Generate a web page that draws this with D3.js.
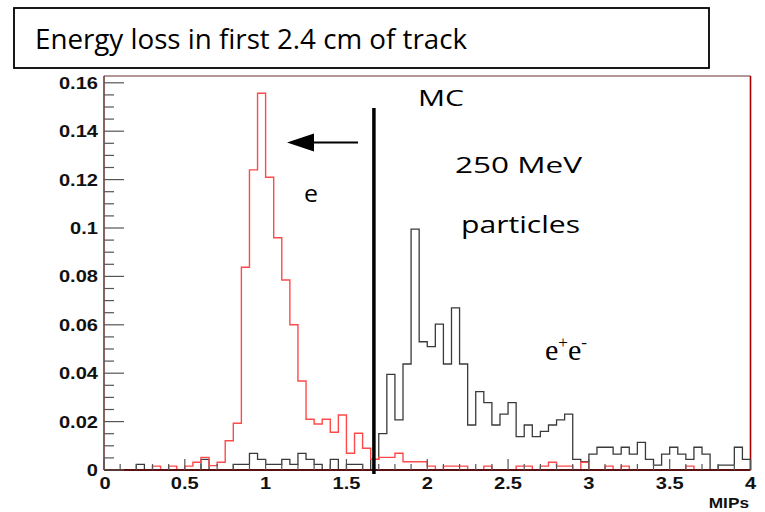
<!DOCTYPE html>
<html><head><meta charset="utf-8">
<script src="https://cdn.jsdelivr.net/npm/d3@7"></script>
<style>body{margin:0;background:#fff}svg{display:block}</style>
</head><body>
<script>
// MIPs bins: 80 bins of width 0.05 from 0 to 4
const binEdges = d3.range(0, 80).map(i => i * 0.05);
const electron = [0,0,0,0,0,0,0.0016,0,0.0016,0,
  0.0016,0.0032,0.0052,0.0018,0.0032,0.0121,0.0193,0.0838,0.124,0.1557,
  0.121,0.096,0.0785,0.060,0.0368,0.021,0.019,0.021,0.0156,0.0227,
  0.0069,0.0152,0.009,0.0044,0.0052,0.0052,0.0069,0.0034,0.0034,0.0034,
  0.0016,0,0.0016,0.0016,0.0016,0,0,0.0016,0,0,
  0,0.0016,0.0016,0,0.0016,0.0032,0.0016,0.0016,0,0.0032,
  0,0,0.0016,0,0.0016,0,0,0,0,0,
  0,0,0.0016,0,0,0,0,0,0,0];
const pair = [0,0,0,0,0.0023,0,0,0,0,0,
  0,0,0.0044,0,0,0,0.0023,0.0023,0.0069,0.0044,
  0.0023,0.0023,0.0044,0.0023,0.0069,0.0044,0.0023,0,0.0044,0,
  0.0023,0.0023,0,0.0044,0.015,0.0395,0.0207,0.0438,0.0995,0.053,
  0.051,0.0603,0.0438,0.067,0.0438,0.0186,0.0324,0.0278,0.0186,0.0231,
  0.0278,0.0138,0.0186,0.0138,0.016,0.0186,0.0207,0.0231,0.0044,0.0035,
  0.0066,0.0094,0.0094,0.0066,0.0094,0.0066,0.0114,0.0044,0.002,0.0066,
  0.0094,0.0066,0.0044,0.0094,0.0066,0,0.002,0.002,0.0094,0.0044];
const xTickLabels = ["0","0.5","1","1.5","2","2.5","3","3.5","4"];
const yTickLabels = ["0","0.02","0.04","0.06","0.08","0.1","0.12","0.14","0.16"];
const cutPosition = [1.67];

const W = 765, H = 512;
const svg = d3.select("body").append("svg").attr("width", W).attr("height", H);
const L = 104, R = 750.5, T = 76, B = 470;
const x = d3.scaleLinear().domain([0, 4]).range([L, R]);
const y = d3.scaleLinear().domain([0, (B - T) / 2420]).range([B, T]);
const STRETCH = 1.18;

function stretchText(sel, f) {
  sel.each(function() {
    const w = this.getComputedTextLength();
    d3.select(this).attr("textLength", w * (f || STRETCH)).attr("lengthAdjust", "spacingAndGlyphs");
  });
}

// title box
svg.append("rect").attr("x", 14).attr("y", 8).attr("width", 695).attr("height", 60)
  .attr("fill", "#fff").attr("stroke", "#000").attr("stroke-width", 1.8);
const title = svg.append("text").attr("x", 35).attr("y", 49)
  .attr("font-family", "Open Sans").attr("font-size", 27).attr("fill", "#000")
  .text("Energy loss in first 2.4 cm of track");
title.attr("textLength", 432).attr("lengthAdjust", "spacingAndGlyphs");

// frame
svg.append("rect").attr("x", L).attr("y", T).attr("width", R - L).attr("height", B - T)
  .attr("fill", "#fff").attr("stroke", "none");

// histograms
function histPath(vals) {
  const pts = [[0, 0]];
  vals.forEach((v, i) => { pts.push([binEdges[i], v]); });
  pts.push([4, 0]);
  return d3.line().curve(d3.curveStepAfter).x(d => x(d[0])).y(d => y(d[1]))(pts);
}
svg.append("path").attr("d", histPath(pair)).attr("fill", "none")
  .attr("stroke", "#3a3a3a").attr("stroke-width", 1.3);
svg.append("path").attr("d", histPath(electron)).attr("fill", "none")
  .attr("stroke", "#ff4a4a").attr("stroke-width", 1.4);

// frame lines
svg.append("line").attr("x1", L).attr("x2", R).attr("y1", T).attr("y2", T).attr("stroke", "#9c7373").attr("stroke-width", 1.6);
svg.append("line").attr("x1", R).attr("x2", R).attr("y1", T).attr("y2", B).attr("stroke", "#a80000").attr("stroke-width", 1.6);
svg.append("line").attr("x1", L).attr("x2", L).attr("y1", T).attr("y2", B).attr("stroke", "#6b3b3b").attr("stroke-width", 1.6);
svg.append("line").attr("x1", L).attr("x2", R).attr("y1", B).attr("y2", B).attr("stroke", "#5a1010").attr("stroke-width", 1.8);

// y axis ticks
const yMinor = d3.range(0, 0.1625, 0.005);
svg.append("g").selectAll("line").data(yMinor).join("line")
  .attr("x1", L).attr("x2", (d, i) => L + (i % 4 === 0 ? 20 : 10))
  .attr("y1", d => y(d)).attr("y2", d => y(d))
  .attr("stroke", "#555").attr("stroke-width", 1.2);
const yl = svg.append("g").selectAll("text").data(yTickLabels).join("text")
  .attr("x", 98).attr("y", (d, i) => y(i * 0.02) + 6)
  .attr("text-anchor", "end").attr("font-family", "Liberation Sans").attr("font-weight", "bold")
  .attr("font-size", 17).attr("fill", "#111").text(d => d);
stretchText(yl);

// x axis ticks
const xMinor = d3.range(0, 41).map(i => i * 0.1);
svg.append("g").selectAll("line").data(xMinor).join("line")
  .attr("x1", d => x(d)).attr("x2", d => x(d))
  .attr("y1", B).attr("y2", (d, i) => B - (i % 5 === 0 ? 11 : 6))
  .attr("stroke", "#555").attr("stroke-width", 1.2);
const xl = svg.append("g").selectAll("text").data(xTickLabels).join("text")
  .attr("x", (d, i) => x(i * 0.5) + (i === 0 ? 1 : 0)).attr("y", 489)
  .attr("text-anchor", "middle").attr("font-family", "Liberation Sans").attr("font-weight", "bold")
  .attr("font-size", 17).attr("fill", "#111").text(d => d);
stretchText(xl);
const xt = svg.append("text").attr("x", 749).attr("y", 508).attr("text-anchor", "end")
  .attr("font-family", "Liberation Sans").attr("font-weight", "bold").attr("font-size", 15)
  .attr("fill", "#111").text("MIPs");
stretchText(xt, 1.15);

// cut line
svg.append("line").attr("x1", x(cutPosition[0])).attr("x2", x(cutPosition[0]))
  .attr("y1", 108).attr("y2", 474).attr("stroke", "#000").attr("stroke-width", 3.5);

// arrow
svg.append("line").attr("x1", 358).attr("x2", 305).attr("y1", 142.5).attr("y2", 142.5)
  .attr("stroke", "#000").attr("stroke-width", 2.2);
svg.append("path").attr("d", "M287,142.5 L314,133.5 L314,151.5 Z").attr("fill", "#000");

// annotations
function ann(t, xx, yy, w, fs) {
  svg.append("text").attr("x", xx).attr("y", yy).attr("font-family", "Open Sans")
    .attr("font-size", fs).attr("fill", "#000").text(t)
    .attr("textLength", w).attr("lengthAdjust", "spacingAndGlyphs");
}
ann("MC", 418, 106, 46, 22);
ann("250 MeV", 455, 173, 127, 22);
ann("particles", 461, 233, 119, 23);
ann("e", 304, 202, 14, 24);

const ee = svg.append("text").attr("x", 545).attr("y", 360)
  .attr("font-family", "Liberation Serif").attr("font-size", 30).attr("fill", "#000");
ee.append("tspan").text("e");
ee.append("tspan").attr("font-size", 17).attr("dy", -12).text("+");
ee.append("tspan").attr("font-size", 30).attr("dy", 12).text("e");
ee.append("tspan").attr("font-size", 17).attr("dy", -12).text("-");
</script>
</body></html>
